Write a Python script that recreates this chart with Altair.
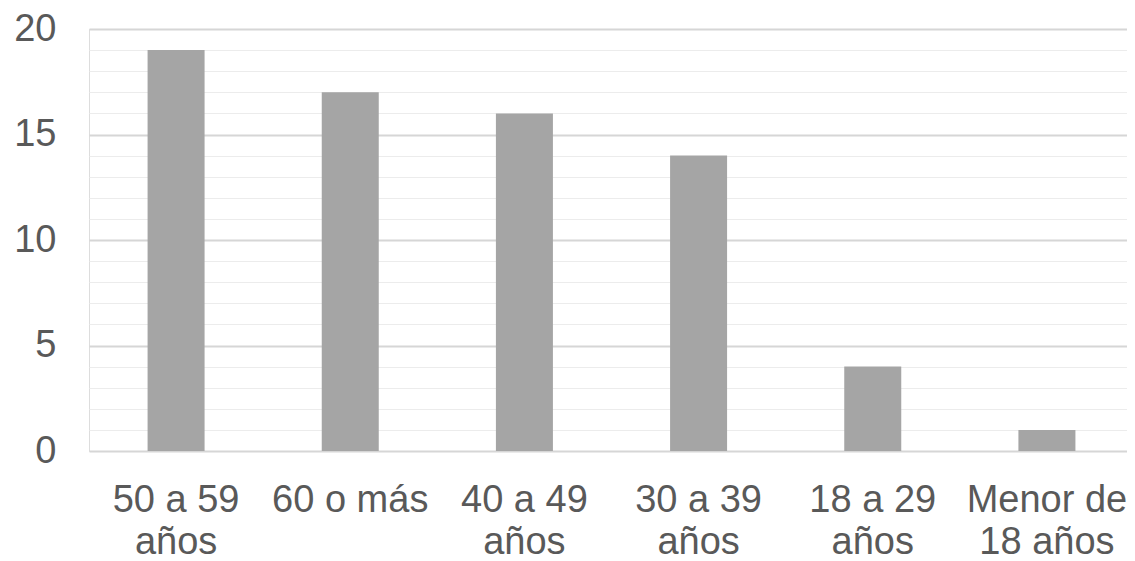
import json
import altair as alt
import pandas as pd

categories = ["50 a 59 años", "60 o más", "40 a 49 años", "30 a 39 años", "18 a 29 años", "Menor de 18 años"]
label_lines = [["50 a 59", "años"], ["60 o más"], ["40 a 49", "años"], ["30 a 39", "años"], ["18 a 29", "años"], ["Menor de", "18 años"]]
values = [19, 17, 16, 14, 4, 1]
y_ticks = list(range(0, 21))

df = pd.DataFrame({"grupo": categories, "valor": values})

label_expr = "{}[indexof({}, datum.value)]".format(
    json.dumps(label_lines, ensure_ascii=False), json.dumps(categories, ensure_ascii=False)
)

FONT = "Liberation Sans"
TXT = "#595959"

chart = alt.Chart(df).mark_bar(color="#a5a5a5", size=57).encode(
    x=alt.X(
        "grupo:N",
        sort=categories,
        title=None,
        scale=alt.Scale(paddingInner=0, paddingOuter=0),
        axis=alt.Axis(
            labelAngle=0,
            labelExpr=label_expr,
            labelFont=FONT,
            labelFontSize=38,
            labelColor=TXT,
            labelLineHeight=42,
            labelPadding=30,
            labelBaseline="top",
            ticks=False,
            domain=False,
            grid=False,
        ),
    ),
    y=alt.Y(
        "valor:Q",
        title=None,
        scale=alt.Scale(domain=[0, 20], nice=False),
        axis=alt.Axis(
            values=y_ticks,
            labelExpr="datum.value % 5 === 0 ? datum.label : ''",
            labelFont=FONT,
            labelFontSize=38,
            labelColor=TXT,
            labelPadding=33,
            ticks=False,
            domain=False,
            grid=True,
            gridColor={"condition": {"test": "datum.value % 5 === 0", "value": "#d6d6d6"}, "value": "#ececec"},
            gridWidth={"condition": {"test": "datum.value % 5 === 0", "value": 2}, "value": 1},
        ),
    ),
).properties(
    width=1045,
    height=422,
    padding={"left": 5, "top": 2, "right": -7, "bottom": 0},
).configure_view(stroke=None).configure(background="white")

chart.save("out.html", embed_options={"renderer": "svg", "actions": False})
